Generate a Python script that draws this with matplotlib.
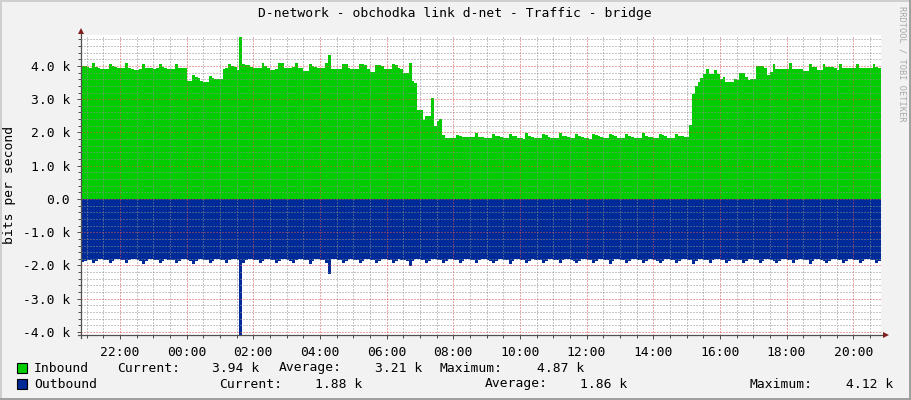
import numpy as np
import matplotlib
matplotlib.use("Agg")
import matplotlib.pyplot as plt
from matplotlib.patches import Rectangle
from matplotlib.lines import Line2D
from matplotlib.ticker import FixedLocator, MultipleLocator

W, H = 911, 400
plt.rcParams["font.family"] = ["DejaVu Sans Mono"]

# 5-minute samples, starting 20:50, one row = one hour (values in k bits/s)
START_HOUR = 20 + 50 / 60
STEP_MIN = 5

inbound = np.array([
    4.01, 4.01, 3.98, 3.95, 4.08, 3.98, 3.95, 3.91, 3.91, 3.92, 4.06, 4.01,
    3.98, 3.93, 3.93, 3.94, 4.08, 3.93, 3.90, 3.88, 3.88, 3.90, 4.05, 3.95,
    3.93, 3.93, 3.92, 3.93, 4.06, 3.98, 3.93, 3.90, 3.90, 3.91, 4.07, 3.95,
    3.95, 3.95, 3.56, 3.56, 3.73, 3.68, 3.63, 3.55, 3.51, 3.52, 3.71, 3.65,
    3.60, 3.60, 3.60, 3.91, 3.93, 4.07, 4.01, 3.96, 3.88, 4.87, 4.05, 4.04,
    4.02, 3.96, 3.95, 3.94, 3.95, 4.09, 3.99, 3.95, 3.88, 3.88, 3.90, 4.09,
    4.08, 3.95, 3.95, 3.95, 3.96, 4.08, 3.95, 3.93, 3.86, 3.86, 4.06, 4.01,
    3.96, 3.93, 3.93, 3.93, 4.08, 4.32, 3.90, 3.90, 3.91, 3.91, 4.06, 4.06,
    3.93, 3.91, 3.91, 3.91, 4.06, 4.06, 4.04, 3.90, 3.83, 3.83, 4.03, 4.03,
    4.01, 3.91, 3.91, 3.91, 4.06, 4.04, 3.95, 3.91, 3.79, 3.79, 4.08, 3.55,
    3.49, 2.66, 2.66, 2.38, 2.48, 2.50, 3.05, 2.19, 2.33, 2.41, 1.91, 1.83,
    1.83, 1.83, 1.83, 1.93, 1.88, 1.86, 1.86, 1.86, 1.85, 1.86, 1.97, 1.86,
    1.85, 1.84, 1.82, 1.82, 1.96, 1.89, 1.88, 1.85, 1.83, 1.82, 1.96, 1.90,
    1.88, 1.84, 1.82, 1.81, 1.97, 1.88, 1.86, 1.84, 1.82, 1.82, 1.96, 1.91,
    1.87, 1.84, 1.82, 1.82, 1.97, 1.90, 1.88, 1.85, 1.83, 1.82, 1.96, 1.88,
    1.86, 1.84, 1.83, 1.81, 1.95, 1.93, 1.88, 1.86, 1.84, 1.82, 1.95, 1.91,
    1.88, 1.84, 1.82, 1.82, 1.95, 1.90, 1.86, 1.84, 1.82, 1.82, 1.97, 1.90,
    1.87, 1.85, 1.83, 1.82, 1.96, 1.91, 1.88, 1.84, 1.82, 1.82, 1.95, 1.89,
    1.88, 1.87, 1.86, 2.23, 3.15, 3.41, 3.51, 3.63, 3.75, 3.90, 3.76, 3.76,
    3.88, 3.76, 3.61, 3.66, 3.53, 3.53, 3.53, 3.61, 3.57, 3.78, 3.78, 3.68,
    3.58, 3.60, 3.60, 4.00, 4.00, 4.00, 3.93, 3.73, 3.83, 4.05, 3.91, 3.91,
    3.91, 3.91, 3.91, 4.08, 3.91, 3.91, 3.91, 3.90, 3.85, 3.85, 4.05, 3.96,
    3.96, 3.89, 3.89, 4.05, 3.96, 3.96, 3.96, 3.94, 3.89, 4.05, 3.93, 3.93,
    3.93, 3.93, 3.93, 4.05, 3.95, 3.93, 3.93, 3.93, 3.93, 4.05, 3.98, 3.94,
])

outbound = np.array([
    1.90, 1.88, 1.84, 1.85, 1.94, 1.86, 1.80, 1.81, 1.83, 1.85, 1.93, 1.86,
    1.80, 1.80, 1.84, 1.85, 1.94, 1.85, 1.79, 1.81, 1.84, 1.86, 1.95, 1.86,
    1.81, 1.80, 1.83, 1.85, 1.93, 1.86, 1.80, 1.82, 1.84, 1.85, 1.94, 1.87,
    1.80, 1.81, 1.84, 1.86, 1.95, 1.86, 1.79, 1.80, 1.84, 1.85, 1.94, 1.86,
    1.81, 1.80, 1.84, 1.85, 1.93, 1.85, 1.80, 1.81, 1.84, 4.12, 1.93, 1.84,
    1.80, 1.81, 1.84, 1.85, 1.94, 1.86, 1.80, 1.80, 1.84, 1.85, 1.94, 1.86,
    1.79, 1.81, 1.84, 1.86, 1.93, 1.85, 1.80, 1.81, 1.84, 1.85, 1.95, 1.86,
    1.80, 1.81, 1.84, 1.85, 1.94, 2.27, 1.80, 1.81, 1.84, 1.85, 1.93, 1.86,
    1.80, 1.81, 1.83, 1.85, 1.94, 1.86, 1.80, 1.81, 1.84, 1.85, 1.94, 1.86,
    1.80, 1.80, 1.84, 1.85, 1.93, 1.86, 1.81, 1.82, 1.84, 1.86, 2.01, 1.88,
    1.81, 1.81, 1.84, 1.85, 1.94, 1.86, 1.80, 1.81, 1.84, 1.85, 1.94, 1.86,
    1.80, 1.80, 1.84, 1.85, 1.93, 1.86, 1.79, 1.81, 1.84, 1.85, 1.94, 1.85,
    1.80, 1.81, 1.84, 1.86, 1.94, 1.86, 1.80, 1.81, 1.83, 1.85, 1.95, 1.86,
    1.80, 1.80, 1.84, 1.85, 1.93, 1.86, 1.80, 1.82, 1.84, 1.85, 1.94, 1.86,
    1.79, 1.81, 1.84, 1.85, 1.94, 1.85, 1.80, 1.81, 1.84, 1.86, 1.93, 1.86,
    1.80, 1.81, 1.83, 1.85, 1.94, 1.86, 1.80, 1.80, 1.84, 1.85, 1.95, 1.86,
    1.81, 1.81, 1.84, 1.85, 1.93, 1.86, 1.80, 1.81, 1.84, 1.85, 1.94, 1.87,
    1.80, 1.80, 1.84, 1.86, 1.94, 1.86, 1.79, 1.81, 1.84, 1.85, 1.94, 1.86,
    1.80, 1.81, 1.84, 1.85, 1.95, 1.86, 1.80, 1.81, 1.84, 1.85, 1.93, 1.85,
    1.80, 1.80, 1.83, 1.85, 1.94, 1.86, 1.80, 1.82, 1.84, 1.85, 1.94, 1.86,
    1.81, 1.81, 1.84, 1.85, 1.93, 1.86, 1.80, 1.81, 1.84, 1.86, 1.94, 1.86,
    1.80, 1.80, 1.84, 1.85, 1.94, 1.85, 1.79, 1.81, 1.84, 1.85, 1.95, 1.86,
    1.80, 1.81, 1.84, 1.86, 1.93, 1.86, 1.80, 1.81, 1.84, 1.85, 1.94, 1.86,
    1.80, 1.81, 1.83, 1.85, 1.94, 1.86, 1.80, 1.81, 1.84, 1.85, 1.93, 1.88,
])

x_tick_hours = [22, 24, 26, 28, 30, 32, 34, 36, 38, 40, 42, 44]
x_tick_labels = ["22:00", "00:00", "02:00", "04:00", "06:00", "08:00",
                 "10:00", "12:00", "14:00", "16:00", "18:00", "20:00"]
y_ticks = [-4, -3, -2, -1, 0, 1, 2, 3, 4]
y_tick_labels = ["-4.0 k", "-3.0 k", "-2.0 k", "-1.0 k", "0.0",
                 "1.0 k", "2.0 k", "3.0 k", "4.0 k"]

title = "D-network - obchodka link d-net - Traffic - bridge"
stat_names = ["Current:", "Average:", "Maximum:"]
inbound_stats = ["3.94 k", "3.21 k", "4.87 k"]
outbound_stats = ["1.88 k", "1.86 k", "4.12 k"]

# rrdtool-like colours
BACK = "#F2F2F2"
GREEN = "#00CC00"
BLUE = "#002A97"
GRID = (0.56, 0.56, 0.56, 0.38)
MGRID = (0.87, 0.31, 0.31, 0.45)
AXIS = "#505050"
ARROW = "#7F1F1F"
FS = 9.4


def fx(x):
    return x / W


def fy(y):
    return 1 - y / H


fig = plt.figure(figsize=(W / 100, H / 100), dpi=100, facecolor=BACK)
ax = fig.add_axes([fx(81), fy(335), 800 / W, 300 / H])
ax.set_facecolor("white")

edges = START_HOUR + np.arange(len(inbound) + 1) * STEP_MIN / 60
ax.stairs(inbound, edges, baseline=0, fill=True, color=GREEN, lw=0)
ax.stairs(-outbound, edges, baseline=0, fill=True, color=BLUE, lw=0)

ax.set_xlim(edges[0], edges[-1])
ax.set_ylim(-4.09, 4.93)

ax.xaxis.set_major_locator(FixedLocator(x_tick_hours))
ax.xaxis.set_minor_locator(MultipleLocator(0.5))
ax.set_xticklabels(x_tick_labels)
ax.yaxis.set_major_locator(FixedLocator(y_ticks))
ax.yaxis.set_minor_locator(MultipleLocator(0.2))
ax.set_yticklabels(y_tick_labels)

ax.set_axisbelow(False)
ax.grid(which="minor", color=GRID, linestyle=(0, (1, 2)), linewidth=0.72)
ax.grid(which="major", color=MGRID, linestyle=(0, (1, 2)), linewidth=0.72)

for s in ax.spines.values():
    s.set_visible(False)
ax.tick_params(which="both", direction="out", color=AXIS, width=0.72,
               labelsize=FS, pad=5)
ax.tick_params(which="major", length=3)
ax.tick_params(which="minor", length=2)

# axis lines with arrows
ax.plot([0, 0], [-0.01, 1.012], transform=ax.transAxes, color=AXIS,
        lw=0.9, clip_on=False)
ax.plot([-0.004, 1.004], [0, 0], transform=ax.transAxes, color=AXIS,
        lw=0.9, clip_on=False)
ax.plot([0], [1.014], marker="^", ms=4.5, color=ARROW, mew=0,
        transform=ax.transAxes, clip_on=False)
ax.plot([1.006], [0], marker=">", ms=4.5, color=ARROW, mew=0,
        transform=ax.transAxes, clip_on=False)

fig.text(fx(455), fy(14), title, ha="center", va="center", fontsize=FS)
fig.text(fx(10), fy(185), "bits per second", rotation=90,
         ha="center", va="center", fontsize=FS)
fig.text(fx(902), fy(6), "RRDTOOL / TOBI OETIKER", rotation=270,
         ha="center", va="top", fontsize=6.2, color="#A8A8A8")

# legend
rows = [
    ("Inbound", GREEN, 368, inbound_stats, [117, 279, 440], [212, 375, 537]),
    ("Outbound", BLUE, 384, outbound_stats, [219, 485, 749], [315, 580, 846]),
]
for name, col, yc, stats, lab_x, val_x in rows:
    fig.add_artist(Rectangle((fx(17), fy(yc + 5)), 10 / W, 10 / H,
                             transform=fig.transFigure, facecolor=col,
                             edgecolor="black", lw=0.8))
    fig.text(fx(34), fy(yc), name, ha="left", va="center", fontsize=FS)
    for sn, lx, st, vx in zip(stat_names, lab_x, stats, val_x):
        fig.text(fx(lx), fy(yc), sn, ha="left", va="center", fontsize=FS)
        fig.text(fx(vx), fy(yc), st, ha="left", va="center", fontsize=FS)

# 3d-ish frame around the image
fig.add_artist(Line2D([0, 1], [fy(0.5), fy(0.5)], color="#CFCFCF", lw=1.4,
                      transform=fig.transFigure))
fig.add_artist(Line2D([fx(0.5), fx(0.5)], [0, 1], color="#CFCFCF", lw=1.4,
                      transform=fig.transFigure))
fig.add_artist(Line2D([0, 1], [fy(399), fy(399)], color="#9E9E9E", lw=1.4,
                      transform=fig.transFigure))
fig.add_artist(Line2D([fx(910), fx(910)], [0, 1], color="#9E9E9E", lw=1.4,
                      transform=fig.transFigure))

fig.savefig("out.png", dpi=100, facecolor=fig.get_facecolor())
